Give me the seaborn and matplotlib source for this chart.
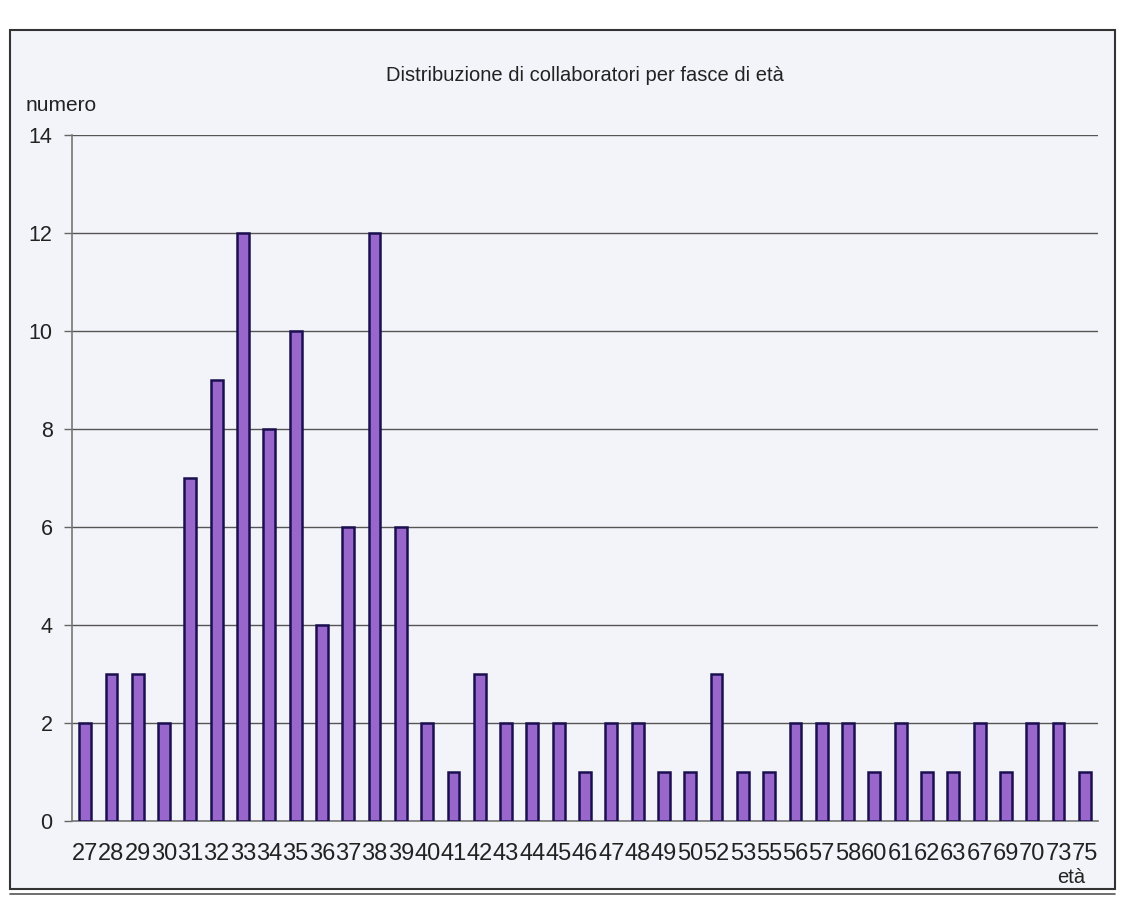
import matplotlib
matplotlib.use("Agg")
import matplotlib.pyplot as plt
from matplotlib.patches import Rectangle
from matplotlib.lines import Line2D
import seaborn as sns
import pandas as pd

# Age classes and number of collaborators in each
eta = ["27", "28", "29", "30", "31", "32", "33", "34", "35", "36", "37", "38",
       "39", "40", "41", "42", "43", "44", "45", "46", "47", "48", "49", "50",
       "52", "53", "55", "56", "57", "58", "60", "61", "62", "63", "67", "69",
       "70", "73", "75"]
numero = [2, 3, 3, 2, 7, 9, 12, 8, 10, 4, 6, 12,
          6, 2, 1, 3, 2, 2, 2, 1, 2, 2, 1, 1,
          3, 1, 1, 2, 2, 2, 1, 2, 1, 1, 2, 1,
          2, 2, 1]
y_ticks = [0, 2, 4, 6, 8, 10, 12, 14]

df = pd.DataFrame({"eta": eta, "numero": numero})

sns.set_theme(style="white")
plt.rcParams["font.family"] = ["Liberation Sans", "DejaVu Sans"]

bg = "#f3f4f9"
fig = plt.figure(figsize=(11.25, 9.09), dpi=100, facecolor="white")
ax = fig.add_axes([0.064, 0.0968, 0.912, 0.7547])
ax.set_facecolor(bg)

# outer chart frame
fig.patches.append(Rectangle((0.009, 0.022), 0.982, 0.945, transform=fig.transFigure,
                             facecolor=bg, edgecolor="#333333", linewidth=1.5, zorder=-10))
fig.lines.append(Line2D([0.009, 0.991], [0.016, 0.016], transform=fig.transFigure,
                        color="#555555", linewidth=1.2))

sns.barplot(data=df, x="eta", y="numero", order=eta, color="#9966cc",
            edgecolor="#1a1050", linewidth=1.8, width=0.45, saturation=1, ax=ax,
            zorder=3)

n = len(eta)
ax.set_xlim(-0.5, n - 0.5)
ax.set_ylim(0, 14)
ax.set_yticks(y_ticks)
ax.set_yticklabels([str(v) for v in y_ticks])
ax.yaxis.grid(True, color="#555555", linewidth=1.0, zorder=0)
ax.set_axisbelow(True)

# category labels centred, tick marks at the category boundaries
ax.tick_params(axis="x", which="major", length=0, labelsize=17, pad=16,
               labelcolor="#222222")
ax.set_xticks([i - 0.5 for i in range(n + 1)], minor=True)
ax.tick_params(axis="x", which="minor", length=6, color="#666666", width=1, direction="out")
ax.tick_params(axis="y", which="major", length=6, color="#666666", width=1,
               direction="out", left=True, labelsize=15.5, pad=8, labelcolor="#222222")

for side in ["top", "right"]:
    ax.spines[side].set_visible(False)
for side in ["left", "bottom"]:
    ax.spines[side].set_color("#777777")
    ax.spines[side].set_linewidth(1.2)

ax.set_xlabel("")
ax.set_ylabel("")
fig.text(0.52, 0.917, "Distribuzione di collaboratori per fasce di età",
         ha="center", va="center", fontsize=14.5, color="#222222")
fig.text(0.023, 0.884, "numero", ha="left", va="center", fontsize=15, color="#222222")
fig.text(0.952, 0.035, "età", ha="center", va="center", fontsize=14.5, color="#222222")

fig.savefig("out.png", dpi=100, facecolor="white")
